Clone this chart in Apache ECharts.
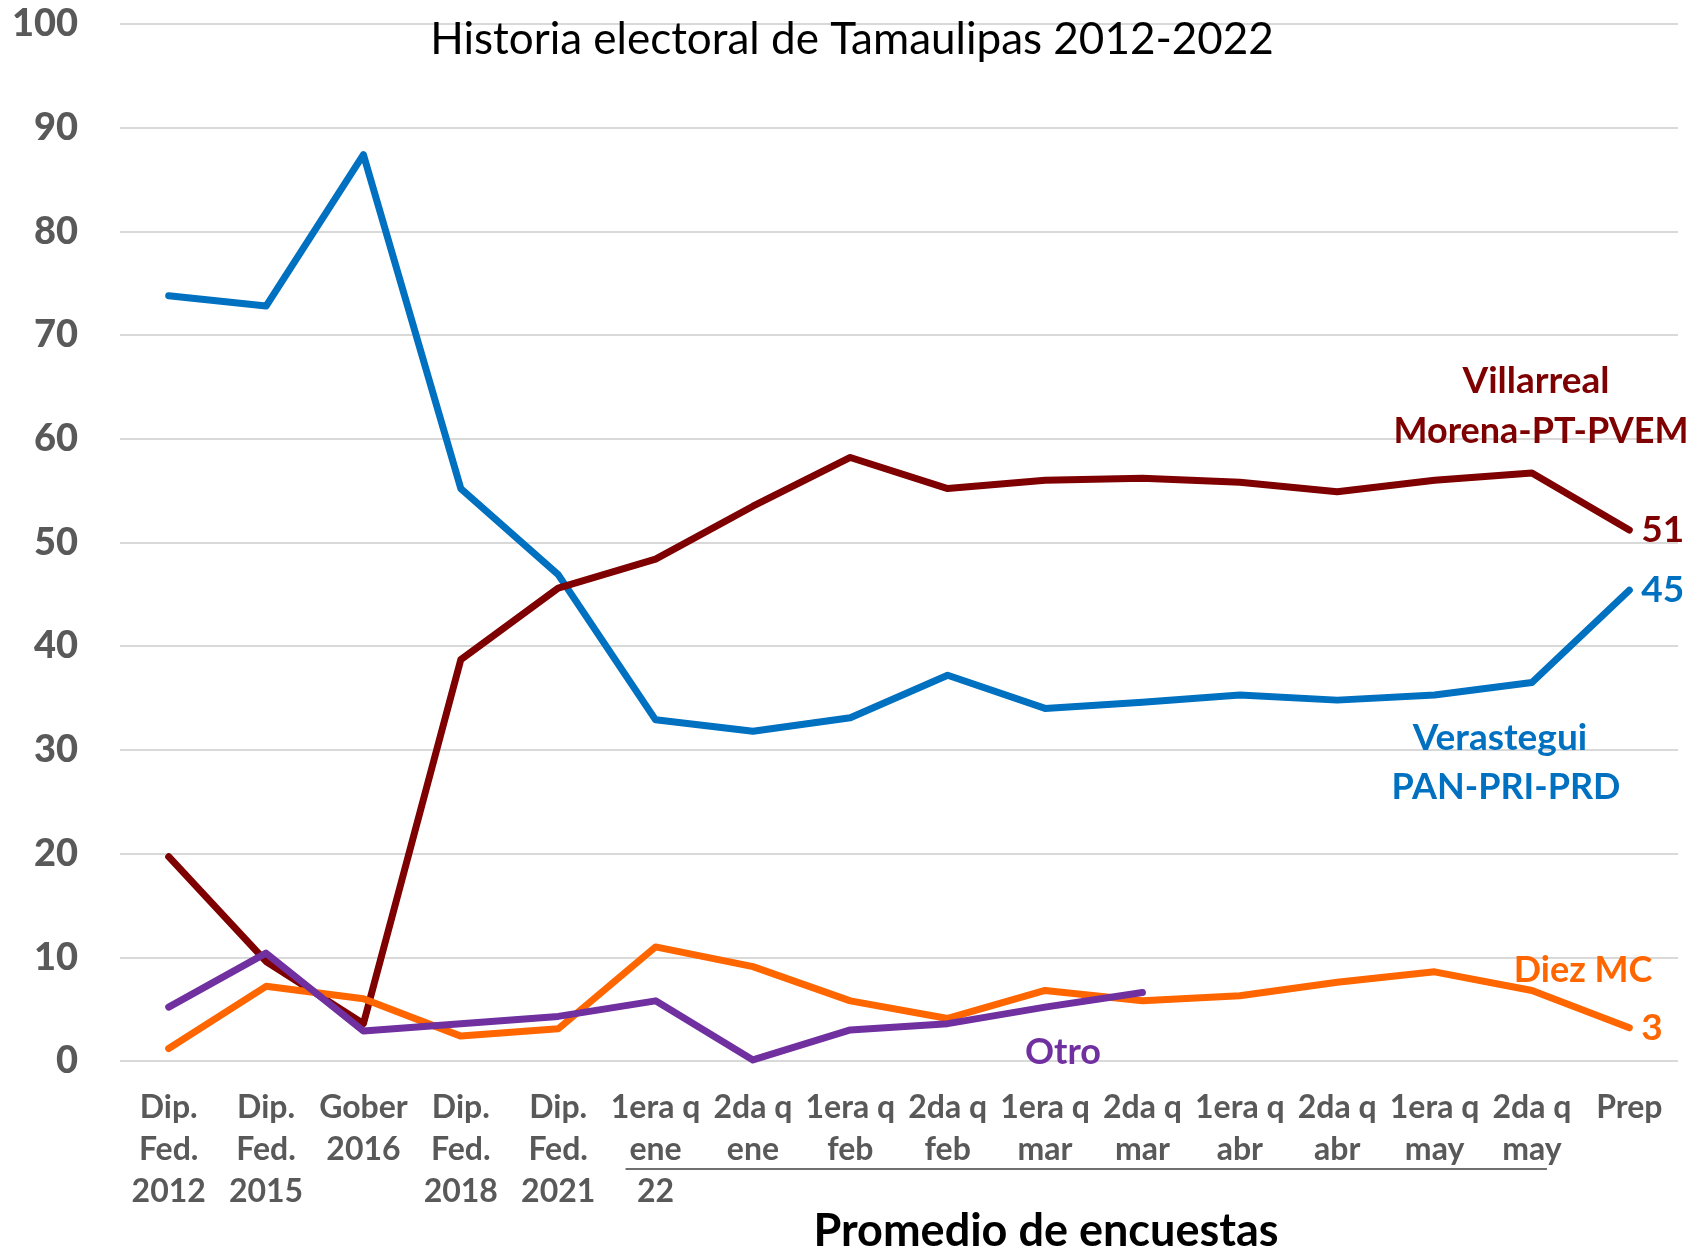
<!DOCTYPE html>
<html>
<head>
<meta charset="utf-8">
<script src="https://cdn.jsdelivr.net/npm/echarts@6/dist/echarts.min.js"></script>
<style>
html,body{margin:0;padding:0;background:#fff;}
#chart{width:1706px;height:1250px;}
</style>
</head>
<body>
<div id="chart"></div>
<script>
var categories = ['Dip.\nFed.\n2012','Dip.\nFed.\n2015','Gober\n2016','Dip.\nFed.\n2018','Dip.\nFed.\n2021','1era q\nene\n22','2da q\nene','1era q\nfeb','2da q\nfeb','1era q\nmar','2da q\nmar','1era q\nabr','2da q\nabr','1era q\nmay','2da q\nmay','Prep'];
var villarreal = [19.7, 9.6, 3.6, 38.7, 45.6, 48.4, 53.5, 58.2, 55.2, 56.0, 56.2, 55.8, 54.9, 56.0, 56.7, 51.2];
var verastegui = [73.8, 72.8, 87.4, 55.2, 46.9, 32.9, 31.8, 33.1, 37.2, 34.0, 34.6, 35.3, 34.8, 35.3, 36.5, 45.4];
var diezMC = [1.2, 7.2, 6.0, 2.4, 3.1, 11.0, 9.1, 5.8, 4.1, 6.8, 5.8, 6.3, 7.6, 8.6, 6.8, 3.2];
var otro = [5.2, 10.4, 2.9, 3.6, 4.3, 5.8, 0.1, 3.0, 3.6, 5.2, 6.6, null, null, null, null, null];
var yTicks = [0, 10, 20, 30, 40, 50, 60, 70, 80, 90, 100];

var chartTitle = 'Historia electoral de Tamaulipas 2012-2022';
var xAxisTitle = 'Promedio de encuestas';

var C_RED = '#7F0000', C_BLUE = '#0070C0', C_ORANGE = '#FF6600', C_PURPLE = '#7030A0';
var FONT = 'Lato';

var chart = echarts.init(document.getElementById('chart'), null, {renderer: 'canvas'});

function lineSeries(name, data, color, showEnd) {
  return {
    name: name, type: 'line', data: data, symbol: 'none', smooth: false,
    connectNulls: false,
    lineStyle: {color: color, width: 7, cap: 'round', join: 'round'},
    itemStyle: {color: color},
    emphasis: {disabled: true},
    endLabel: {
      show: showEnd, distance: 12,
      formatter: function (p) { return Math.round(p.value); },
      color: color, fontFamily: FONT, fontWeight: 'bold', fontSize: 37
    },
    z: 2
  };
}

var option = {
  animation: false,
  backgroundColor: '#ffffff',
  grid: {left: 120, right: 28, top: 24, bottom: 189, containLabel: false},
  xAxis: {
    type: 'category', data: categories, boundaryGap: true,
    axisLine: {show: false}, axisTick: {show: false},
    axisLabel: {
      interval: 0, margin: 26, color: '#595959', fontFamily: FONT,
      fontWeight: 'bold', fontSize: 32, lineHeight: 42
    },
    splitLine: {show: false}
  },
  yAxis: {
    type: 'value', min: yTicks[0], max: yTicks[yTicks.length - 1], interval: 10,
    axisLine: {show: false}, axisTick: {show: false},
    axisLabel: {margin: 42, color: '#595959', fontFamily: FONT, fontWeight: 900, fontSize: 38},
    splitLine: {show: true, lineStyle: {color: '#D9D9D9', width: 2}}
  },
  series: [
    lineSeries('Verastegui', verastegui, C_BLUE, true),
    lineSeries('Villarreal', villarreal, C_RED, true),
    lineSeries('Diez MC', diezMC, C_ORANGE, true),
    lineSeries('Otro', otro, C_PURPLE, false)
  ]
};
chart.setOption(option);

var x5 = chart.convertToPixel({xAxisIndex: 0}, categories[5]);
var x14 = chart.convertToPixel({xAxisIndex: 0}, categories[14]);

function txt(text, x, y, color, size, weight) {
  return {
    type: 'text', x: x, y: y, z: 100,
    style: {text: text, fill: color, fontFamily: FONT, fontWeight: weight || 'bold',
      fontSize: size, align: 'center', verticalAlign: 'middle'}
  };
}

chart.setOption({
  graphic: [
    txt(chartTitle, 852, 40, '#000000', 44, 'normal'),
    txt(xAxisTitle, 1046, 1231, '#000000', 45, 'bold'),
    txt('Villarreal', 1536, 381, C_RED, 37),
    txt('Morena-PT-PVEM', 1541, 431, C_RED, 36),
    txt('Verastegui', 1500, 738, C_BLUE, 37),
    txt('PAN-PRI-PRD', 1506, 787, C_BLUE, 36),
    txt('Diez MC', 1583, 970, C_ORANGE, 36),
    txt('Otro', 1063, 1052, C_PURPLE, 36),
    {
      type: 'line', z: 100,
      shape: {x1: x5 - 30, y1: 1169, x2: x14 + 15, y2: 1169},
      style: {stroke: '#404040', lineWidth: 1.5}
    }
  ]
});
</script>
</body>
</html>
